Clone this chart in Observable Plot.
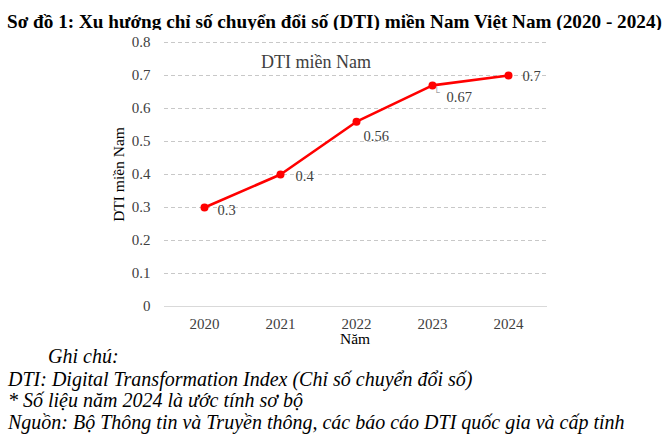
<!DOCTYPE html>
<html>
<head>
<meta charset="utf-8">
<script src="https://cdn.jsdelivr.net/npm/d3@7"></script>
<script src="https://cdn.jsdelivr.net/npm/@observablehq/plot@0.6"></script>
<style>
  html, body { margin: 0; padding: 0; background: #fff; }
  #wrap { position: relative; width: 663px; height: 443px; font-family: "Liberation Serif", "Times New Roman", serif; color: #000; }
  #title { position: absolute; left: 7px; top: 11px; font-weight: bold; font-size: 19px; white-space: nowrap; line-height: 22px; transform: scaleX(1.01); transform-origin: 0 0; }
  #chart { position: absolute; left: 0; top: 30px; }
  .note { position: absolute; font-style: italic; font-size: 20px; white-space: nowrap; line-height: 21px; }
</style>
</head>
<body>
<div id="wrap">
  <div id="title">Sơ đồ 1: Xu hướng chỉ số chuyển đổi số (DTI) miền Nam Việt Nam (2020 - 2024)</div>
  <div id="chart"></div>
  <div class="note" style="left:48px; top:346px;">Ghi chú:</div>
  <div class="note" style="left:8px; top:369px;">DTI: Digital Transformation Index (Chỉ số chuyển đổi số)</div>
  <div class="note" style="left:8px; top:390px;">* Số liệu năm 2024 là ước tính sơ bộ</div>
  <div class="note" style="left:8px; top:412px;">Nguồn: Bộ Thông tin và Truyền thông, các báo cáo DTI quốc gia và cấp tỉnh</div>
</div>
<script>
const years = ["2020", "2021", "2022", "2023", "2024"];
const dtiValues = [0.3, 0.4, 0.56, 0.67, 0.7];
const yTicks = [0, 0.1, 0.2, 0.3, 0.4, 0.5, 0.6, 0.7, 0.8];
const seriesName = "DTI miền Nam";
const yAxisTitle = "DTI miền Nam";
const xAxisTitle = "Năm";

const data = years.map((y, i) => ({ year: y, value: dtiValues[i] }));

// label placement styles per year
const labelOffsets = {
  "2020": { dx: 13, dy: 3 },
  "2021": { dx: 15, dy: 2 },
  "2022": { dx: 7, dy: 15 },
  "2023": { dx: 14, dy: 12 },
  "2024": { dx: 14, dy: 1 }
};

const font = "Liberation Serif, Times New Roman, serif";
const textColor = "#404040";

const labelMarks = years.map(y => Plot.text(data.filter(d => d.year === y), {
  x: "year", y: "value", text: d => String(d.value),
  textAnchor: "start", dx: labelOffsets[y].dx, dy: labelOffsets[y].dy,
  fill: textColor, fontSize: 14.5, fontFamily: font
}));

const chart = Plot.plot({
  width: 663,
  height: 330,
  marginLeft: 164,
  marginRight: 116,
  marginTop: 12,
  marginBottom: 54,
  style: { fontFamily: font, fontSize: "15px", color: textColor, background: "white", overflow: "visible" },
  x: { type: "band", domain: years, padding: 0 },
  y: { domain: [0, 0.8] },
  marks: [
    Plot.gridY(yTicks.filter(d => d > 0), { stroke: "#c8c8c8", strokeOpacity: 1, strokeDasharray: "4,3", strokeWidth: 1 }),
    Plot.ruleY([0], { stroke: "#d9d9d9", strokeWidth: 1 }),
    Plot.axisY({ ticks: yTicks, tickSize: 0, tickPadding: 14, label: null, tickFormat: d => String(d), fill: textColor, fontSize: 15, fontFamily: font }),
    Plot.axisX({ tickSize: 0, tickPadding: 12, label: null, fill: textColor, fontSize: 15, fontFamily: font }),
    Plot.text([yAxisTitle], { frameAnchor: "left", textAnchor: "middle", lineAnchor: "middle", rotate: -90, dx: -45, text: d => d, fontSize: 15.5, fill: "#000", fontFamily: font }),
    Plot.text([xAxisTitle], { frameAnchor: "bottom", lineAnchor: "middle", dy: 33, dx: -1, text: d => d, fontSize: 15.5, fill: "#000", fontFamily: font }),
    Plot.text([seriesName], { frameAnchor: "top", lineAnchor: "middle", dy: 20, dx: -40, text: d => d, fontSize: 18, fill: textColor, fontFamily: font }),
    Plot.line(data, { x: "year", y: "value", stroke: "#ff0000", strokeWidth: 2.6 }),
    Plot.dot(data, { x: "year", y: "value", fill: "#ff0000", r: 4 }),
    Plot.text(data.filter(d => d.year === "2023"), { x: "year", y: "value", text: () => "└", dx: 4, dy: 7, fill: "#a0a0a0", fontSize: 10, fontFamily: "DejaVu Sans" }),
    ...labelMarks
  ]
});
document.getElementById("chart").appendChild(chart);
</script>
</body>
</html>
